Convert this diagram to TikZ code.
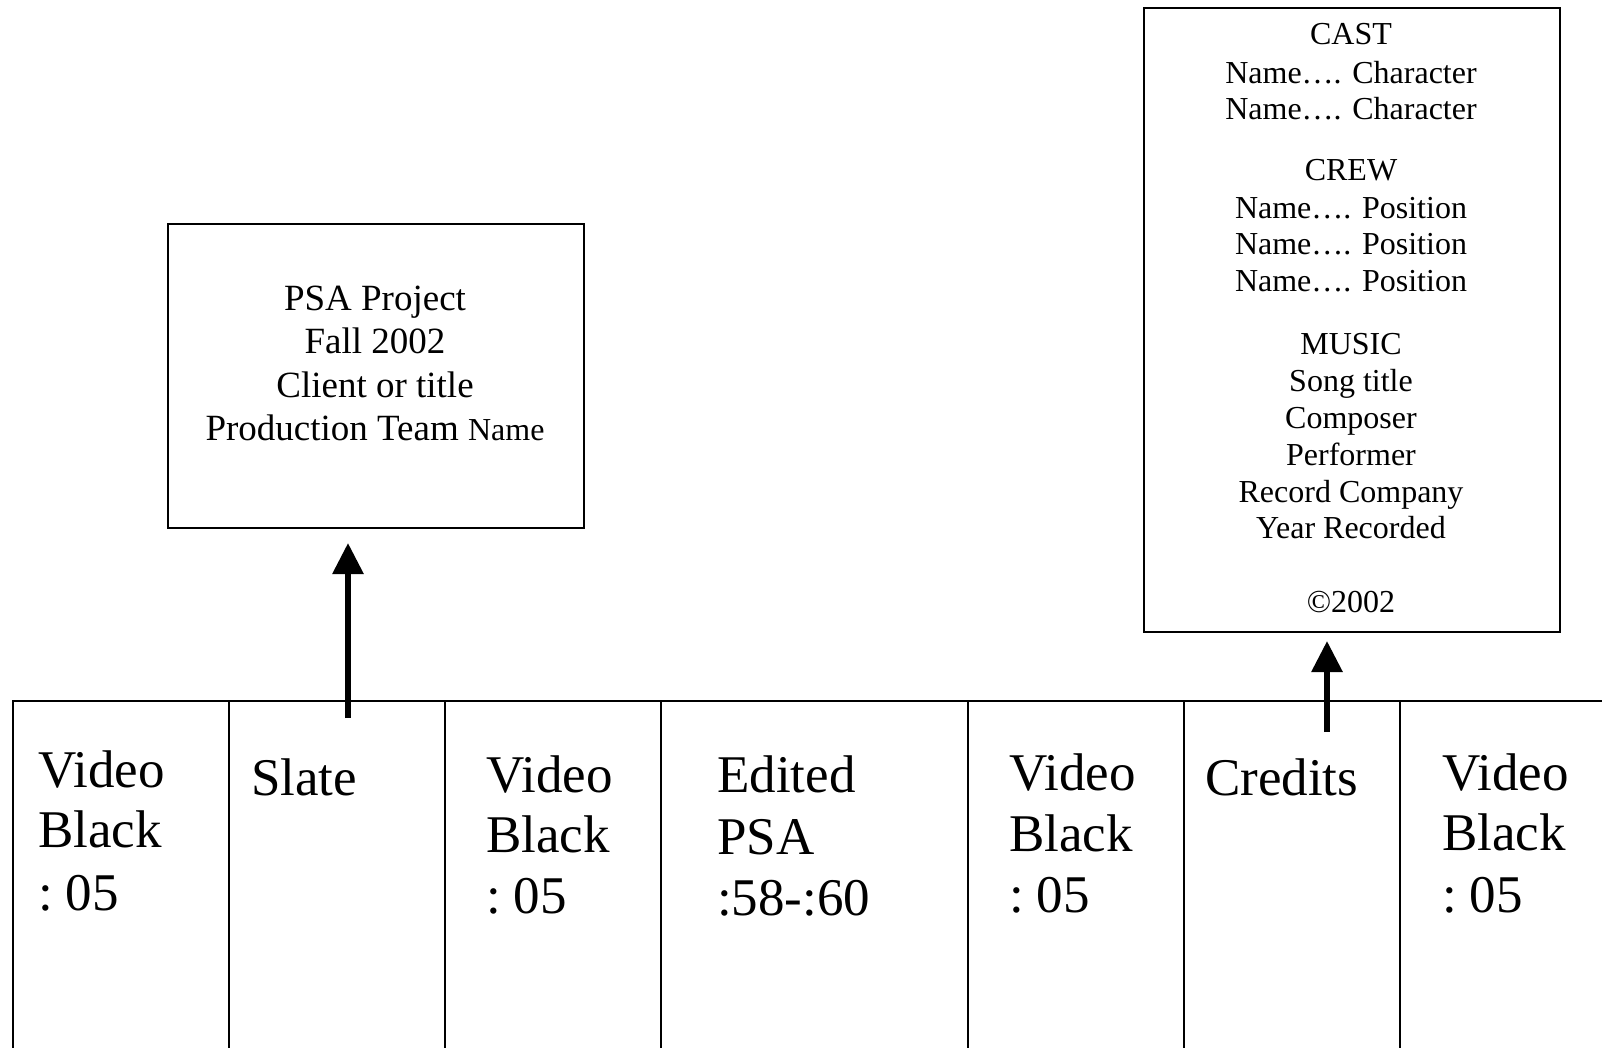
\documentclass[tikz,border=0pt]{standalone}
\usepackage{fontspec}
\setmainfont{Liberation Serif}
\usetikzlibrary{arrows.meta}
\tikzset{
  cell/.style={draw, line width=2pt, rectangle, inner sep=0pt, anchor=north west, minimum height=400pt},
  box/.style={draw, line width=2pt, rectangle, inner sep=0pt, anchor=north west},
  big/.style={font=\fontsize{53}{61}\selectfont, inner sep=0pt, anchor=base west},
  mid/.style={font=\fontsize{37}{43}\selectfont, inner sep=0pt, anchor=base},
  small/.style={font=\fontsize{32}{37}\selectfont, inner sep=0pt, anchor=base},
  arr/.style={line width=6pt, -{Triangle[length=31pt, width=30pt]}}
}
\newcommand{\cs}{:\hspace{0.24em}05}
\begin{document}
\begin{tikzpicture}[x=1pt, y=-1pt]
\useasboundingbox (0,0) rectangle (1602,1048);
\clip (0,0) rectangle (1602,1048);
% timeline cells
\node[cell, minimum width=216pt] (c1) at (12,700) {};
\node[cell, minimum width=216pt] (c2) at (228,700) {};
\node[cell, minimum width=216pt] (c3) at (444,700) {};
\node[cell, minimum width=307pt] (c4) at (660,700) {};
\node[cell, minimum width=216pt] (c5) at (967,700) {};
\node[cell, minimum width=216pt] (c6) at (1183,700) {};
\node[cell, minimum width=260pt] (c7) at (1399,700) {};
% cell texts
\node[big] (t1a) at (38,787) {Video};
\node[big] (t1b) at (38,847) {Black};
\node[big] (t1c) at (38,910) {\cs};
\node[big] (t2a) at (251,795) {Slate};
\node[big] (t3a) at (486,792) {Video};
\node[big] (t3b) at (486,852) {Black};
\node[big] (t3c) at (486,913) {\cs};
\node[big] (t4a) at (717,792) {Edited};
\node[big] (t4b) at (717,854) {PSA};
\node[big] (t4c) at (717,915) {:58-:60};
\node[big] (t5a) at (1009,790) {Video};
\node[big] (t5b) at (1009,851) {Black};
\node[big] (t5c) at (1009,912) {\cs};
\node[big] (t6a) at (1205,795) {Credits};
\node[big] (t7a) at (1442,790) {Video};
\node[big] (t7b) at (1442,850) {Black};
\node[big] (t7c) at (1442,912) {\cs};
% slate box
\node[box, minimum width=416pt, minimum height=304pt] (slate) at (167,223) {};
\node[mid] (s1) at (375,310) {PSA Project};
\node[mid] (s2) at (375,353) {Fall 2002};
\node[mid] (s3) at (375,397) {Client or title};
\node[mid] (s4) at (375,440) {Production Team {\fontsize{32}{37}\selectfont Name}};
% credits box
\node[box, minimum width=416pt, minimum height=624pt] (credits) at (1143,7) {};
\node[small] (k1) at (1351,45) {CAST};
\node[small] (k2) at (1351,84) {Name…. Character};
\node[small] (k3) at (1351,120) {Name…. Character};
\node[small] (k4) at (1351,181) {CREW};
\node[small] (k5) at (1351,219) {Name…. Position};
\node[small] (k6) at (1351,255) {Name…. Position};
\node[small] (k7) at (1351,292) {Name…. Position};
\node[small] (k8) at (1351,354) {MUSIC};
\node[small] (k9) at (1351,391) {Song title};
\node[small] (k10) at (1351,428) {Composer};
\node[small] (k11) at (1351,465) {Performer};
\node[small] (k12) at (1351,502) {Record Company};
\node[small] (k13) at (1351,538) {Year Recorded};
\node[small] (k14) at (1351,612) {©2002};
% arrows
\coordinate (a1) at (348,718);
\coordinate (a2) at (1327,732);
\draw[arr, shorten >=14pt] (a1) -- (a1 |- slate.south);
\draw[arr, shorten >=8pt] (a2) -- (a2 |- credits.south);
\end{tikzpicture}
\end{document}
